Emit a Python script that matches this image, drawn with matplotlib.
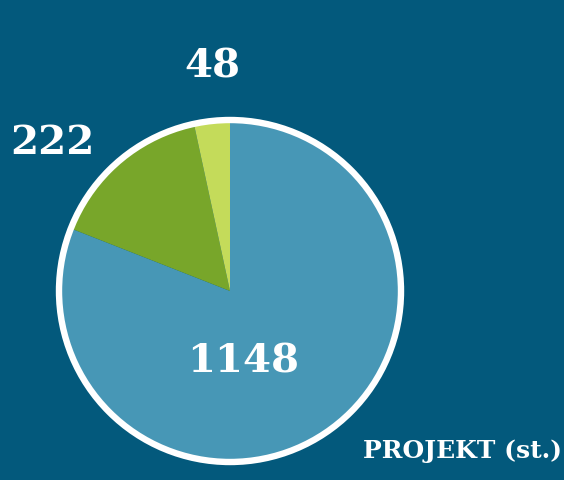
import matplotlib
matplotlib.use("Agg")
import matplotlib.pyplot as plt
from matplotlib.patches import Circle

categories = ["A", "B", "C"]
values = [1148, 222, 48]
colors = ["#4797b6", "#78a62a", "#c4db5a"]
title = "PROJEKT (st.)"

BG = "#03597c"
W, H = 564, 481
fig = plt.figure(figsize=(W / 100, H / 100), dpi=100, facecolor=BG)
ax = fig.add_axes([0, 0, 1, 1])
ax.set_facecolor(BG)

cx, cy, r = 230, H - 292, 171
ax.pie(values, colors=colors, startangle=90, counterclock=False,
       center=(cx, cy), radius=r, frame=True,
       wedgeprops=dict(linewidth=0))
ax.set_xlim(0, W)
ax.set_ylim(0, H)
ax.set_aspect("equal")
ax.axis("off")
ax.add_patch(Circle((cx, cy), r, fill=False, edgecolor="white", linewidth=4.6, zorder=5))

font = dict(family="DejaVu Serif", weight="bold", color="white")
label_pos = [(243, H - 362), (52, H - 143), (212, H - 66)]
for v, (x, y) in zip(values, label_pos):
    ax.text(x, y, str(v), ha="center", va="center", fontsize=29, **font)

ax.text(462, H - 451, title, ha="center", va="center", fontsize=18, **font)

fig.savefig("out.png", dpi=100, facecolor=BG)
